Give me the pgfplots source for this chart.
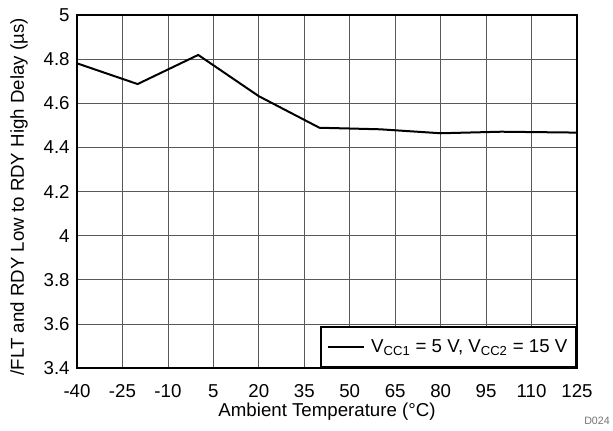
\documentclass[border=0pt]{standalone}
\usepackage{pgfplots}
\pgfplotsset{compat=1.18}
\usepackage{fontspec}
\setmainfont{Liberation Sans}
\begin{document}
\begin{tikzpicture}[x=0.75pt,y=0.75pt]
\useasboundingbox (-77,-62) rectangle (536,368);
\begin{axis}[
  at={(0,0)}, anchor=south west,
  scale only axis,
  width=375pt, height=264.75pt,
  xmin=-40, xmax=125, ymin=3.4, ymax=5,
  xtick={-40,-25,-10,5,20,35,50,65,80,95,110,125},
  ytick={3.4,3.6,3.8,4,4.2,4.4,4.6,4.8,5},
  major tick length=0pt,
  grid=major,
  major grid style={line width=0.5pt, color=black!65},
  axis line style={line width=1.5pt},
  /pgf/number format/assume math mode=true,
  tick label style={font=\fontsize{14}{16}\selectfont},
  xticklabel style={inner sep=1pt, yshift=-11pt},
  yticklabel style={xshift=-2pt},
  label style={font=\fontsize{14}{16}\selectfont},
  xlabel={Ambient Temperature (°C)},
  ylabel={/FLT and RDY Low to RDY High Delay (µs)},
  xlabel style={at={(axis description cs:0.5,0)}, anchor=north, inner sep=1pt, yshift=-25pt},
  ylabel style={at={(axis description cs:-0.116,0.485)}, anchor=center},
  legend style={at={(rel axis cs:1,0)}, anchor=south east, line width=1.5pt,
    font=\fontsize{14}{16}\selectfont, inner xsep=4.5pt, inner ysep=7.5pt,
    legend cell align=left},
  legend image code/.code={\draw[line width=1.5pt] (0pt,0pt) -- (27pt,0pt); \path (30pt,0pt);},
]
\addplot[black, line width=1.5pt] coordinates {
  (-40,4.781) (-20,4.687) (0,4.819) (20,4.632) (40,4.489)
  (60,4.482) (80,4.464) (100,4.471) (125,4.467)
};
\addlegendentry{V\textsubscript{CC1} = 5 V, V\textsubscript{CC2} = 15 V}
\end{axis}
\node[anchor=center, text=black!55, font=\fontsize{8}{10}\selectfont] at (520,-53) {D024};
\end{tikzpicture}
\end{document}
